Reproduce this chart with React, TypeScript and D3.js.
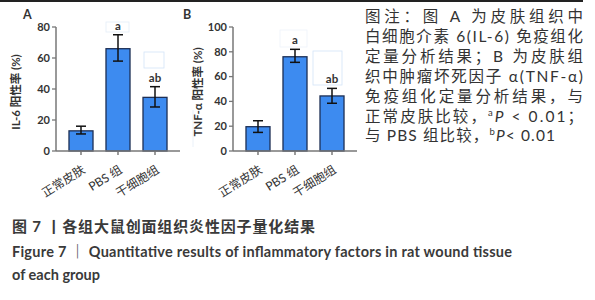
import React from "react";
import * as d3 from "d3";

const categories = ["正常皮肤", "PBS 组", "干细胞组"];
const il6Values = [13, 66, 34.6];
const il6Upper = [16, 75, 41.5];
const il6Lower = [11, 58, 28.4];
const il6Sig = ["", "a", "ab"];
const tnfValues = [19.6, 76, 44.4];
const tnfUpper = [24.4, 82, 50.5];
const tnfLower = [15, 71.5, 38.5];
const tnfSig = ["", "a", "ab"];
const il6Ticks = [0, 20, 40, 60, 80];
const tnfTicks = [0, 20, 40, 60, 80, 100];

const noteLines = [
  "图注：图 A 为皮肤组织中",
  "白细胞介素 6(IL-6) 免疫组化",
  "定量分析结果；B 为皮肤组",
  "织中肿瘤坏死因子 α(TNF-α)",
  "免疫组化定量分析结果，与",
];

const FONT = "Lato, 'Noto Sans CJK SC', sans-serif";
const TXT = "#333";

type PanelProps = {
  x0: number;
  letter: string;
  letterX: number;
  ylabel: string;
  ylabelX: number;
  values: number[];
  upper: number[];
  lower: number[];
  sig: string[];
  ticks: number[];
  ymax: number;
};

function Panel({ x0, letter, letterX, ylabel, ylabelX, values, upper, lower, sig, ticks, ymax }: PanelProps) {
  const x = d3.scaleBand<string>().domain(categories).range([x0, x0 + 124]).paddingInner(0.351).paddingOuter(0.351);
  const y = d3.scaleLinear().domain([0, ymax]).range([151, 27]);
  const bw = x.bandwidth();
  return (
    <g>
      <text x={letterX} y={19} fontFamily={FONT} fontWeight="bold" fontSize={12.5} fill={TXT}>{letter}</text>
      <text transform={`translate(${ylabelX},${y(ymax / 2) + 3}) rotate(-90)`} dy="0.35em" textAnchor="middle" fontFamily={FONT} fontWeight="bold" fontSize={11.5} fill={TXT}>{ylabel}</text>
      {values.map((v, i) => {
        const cx = (x(categories[i]) as number) + bw / 2;
        return (
          <g key={i}>
            <rect x={x(categories[i])} y={y(v)} width={bw} height={y(0) - y(v)} fill="#3d8bf0" stroke="#1d2f55" strokeWidth={1.3} />
            <line x1={cx} x2={cx} y1={y(upper[i])} y2={y(lower[i])} stroke="#111" strokeWidth={1.5} />
            <line x1={cx - 5} x2={cx + 5} y1={y(upper[i])} y2={y(upper[i])} stroke="#111" strokeWidth={1.5} />
            <line x1={cx - 5} x2={cx + 5} y1={y(lower[i])} y2={y(lower[i])} stroke="#111" strokeWidth={1.5} />
            {sig[i] && (
              <text x={cx} y={y(upper[i]) - 5} textAnchor="middle" fontFamily={FONT} fontWeight="bold" fontSize={11.5} fill={TXT}>{sig[i]}</text>
            )}
            <line x1={cx} x2={cx} y1={151} y2={155} stroke="#666" strokeWidth={1.3} />
            <text transform={`translate(${cx + 5},${172}) rotate(-32)`} textAnchor="end" fontFamily={FONT} fontSize={12} fill={TXT}>{categories[i]}</text>
          </g>
        );
      })}
      <line x1={x0} x2={x0 + 124} y1={151} y2={151} stroke="#777" strokeWidth={1.5} />
      <line x1={x0} x2={x0} y1={151} y2={y(ymax)} stroke="#777" strokeWidth={1.5} />
      {ticks.map((t) => (
        <g key={t}>
          <line x1={x0 - 4} x2={x0} y1={y(t)} y2={y(t)} stroke="#777" strokeWidth={1.3} />
          <text x={x0 - 6} y={y(t)} dy="0.35em" textAnchor="end" fontFamily={FONT} fontWeight="bold" fontSize={11} fill={TXT}>{t}</text>
        </g>
      ))}
    </g>
  );
}

export default function App() {
  const lh = 19.9;
  return (
    <svg width={595} height={300} style={{ position: "absolute", left: 0, top: 0, background: "#fff" }}>
      <rect x={0} y={0} width={595} height={300} fill="#fff" />
      <line x1={0} x2={583} y1={1} y2={1} stroke="#222" strokeWidth={2} />
      <rect x={106} y={22} width={23} height={10} fill="none" stroke="#e4edf8" strokeWidth={0.8} />
      <rect x={144} y={52} width={20} height={16} fill="none" stroke="#d3e3f7" strokeWidth={0.8} />
      <rect x={280} y={30} width={27} height={17} fill="none" stroke="#eef3fa" strokeWidth={0.8} />
      <rect x={313} y={51} width={29} height={34} fill="none" stroke="#d3e3f7" strokeWidth={0.8} />
      <line x1={193} x2={193} y1={110} y2={147} stroke="#e4edf8" strokeWidth={0.8} />
      <Panel x0={56} letter="A" letterX={23} ylabel="IL-6 阳性率 (%)" ylabelX={16} values={il6Values} upper={il6Upper} lower={il6Lower} sig={il6Sig} ticks={il6Ticks} ymax={80} />
      <Panel x0={233} letter="B" letterX={183} ylabel="TNF-α 阳性率 (%)" ylabelX={198} values={tnfValues} upper={tnfUpper} lower={tnfLower} sig={tnfSig} ticks={tnfTicks} ymax={100} />
      {noteLines.map((l, i) => (
        <text key={i} x={365} y={22 + i * lh} textLength={218} lengthAdjust="spacing" fontFamily={FONT} fontSize={15.5} fill={TXT}>{l}</text>
      ))}
      <text x={365} y={22 + 5 * lh} textLength={218} lengthAdjust="spacing" fontFamily={FONT} fontSize={15.5} fill={TXT}>
        正常皮肤比较，<tspan fontSize={9.5} dy={-6}>a</tspan><tspan fontStyle="italic" dy={6}>P</tspan> &lt; 0.01；
      </text>
      <text x={365} y={22 + 6 * lh} textLength={190} lengthAdjust="spacing" fontFamily={FONT} fontSize={15.5} fill={TXT}>
        与 PBS 组比较，<tspan fontSize={9.5} dy={-6}>b</tspan><tspan fontStyle="italic" dy={6}>P</tspan>&lt; 0.01
      </text>
      <text x={12} y={232} textLength={303} lengthAdjust="spacing" fontFamily={FONT} fontWeight="bold" fontSize={15} fill="#3a3a3a">图 7 丨各组大鼠创面组织炎性因子量化结果</text>
      <text x={12} y={257} textLength={500} lengthAdjust="spacing" fontFamily={FONT} fontWeight="bold" fontSize={14.5} fill="#3a3a3a">Figure 7 ｜ Quantitative results of inflammatory factors in rat wound tissue</text>
      <text x={12} y={280} fontFamily={FONT} fontWeight="bold" fontSize={14.5} fill="#3a3a3a">of each group</text>
    </svg>
  );
}
